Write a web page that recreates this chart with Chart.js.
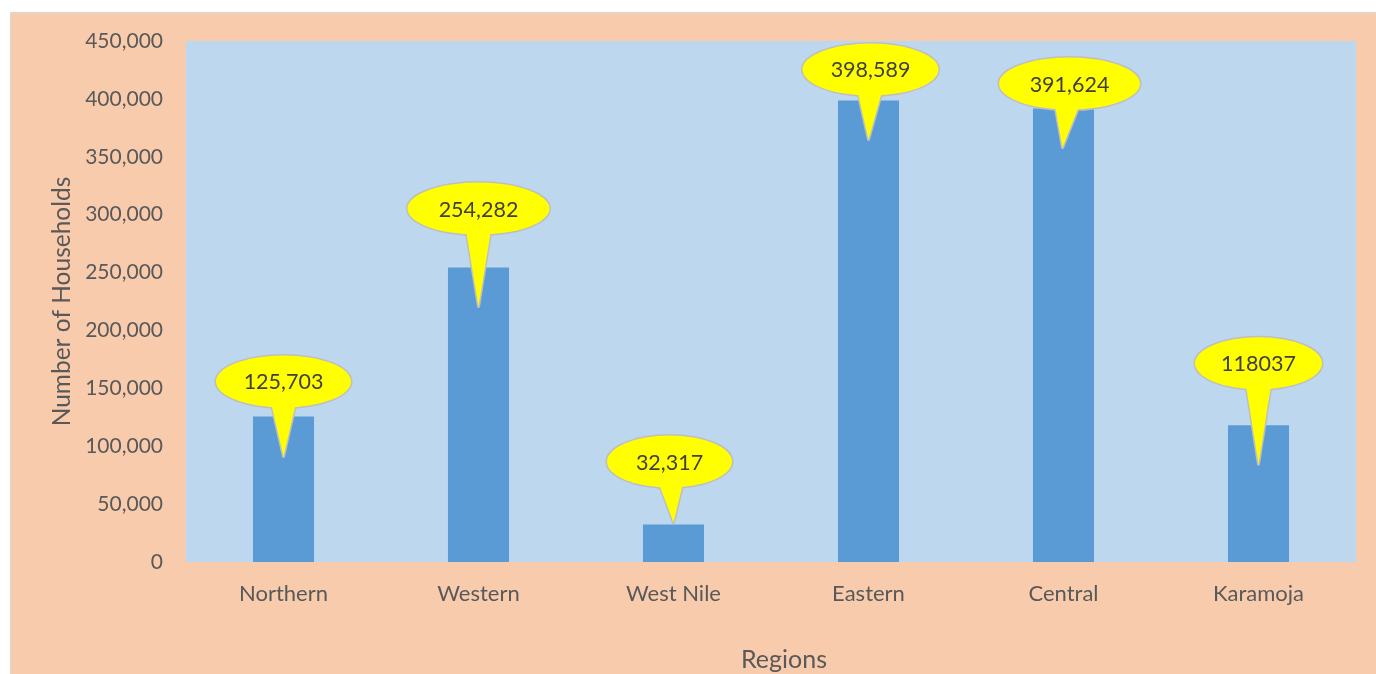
<!DOCTYPE html>
<html>
<head>
<meta charset="utf-8">
<script src="https://cdn.jsdelivr.net/npm/chart.js@4/dist/chart.umd.min.js"></script>
<style>
  html, body { margin: 0; padding: 0; background: #ffffff; }
  #wrap { width: 1376px; height: 674px; }
</style>
</head>
<body>
<div id="wrap"><canvas id="c" width="1376" height="674"></canvas></div>
<script>
// Households per region
const regions = ['Northern', 'Western', 'West Nile', 'Eastern', 'Central', 'Karamoja'];
const households = [125703, 254282, 32317, 398589, 391624, 118037];
// Whether each callout prints its number with thousands separators
const groupedLabel = [true, true, true, true, true, false];
// Value axis range
const yMin = 0;
const yMax = 450000;
const yStep = 50000;
const xTitle = 'Regions';
const yTitle = 'Number of Households';

// Callout placement, relative to each bar's top centre:
// [bubble dx, bubble dy, bubble width, tip dx, tip dy]
const calloutLayout = [
  [0, -35, 135, 0, 40],
  [0, -59, 142, 0, 39],
  [-4, -63, 125, 0, -2],
  [2, -31, 136, 0, 39],
  [6, -25, 141, -1, 39],
  [0, -62, 127, 0, 39]
];

const FONT = 'Lato, "Open Sans", sans-serif';
const TEXT = '#595959';

const backdrop = {
  id: 'backdrop',
  beforeDraw(chart) {
    const { ctx, width, height, chartArea } = chart;
    ctx.save();
    ctx.fillStyle = '#ffffff';
    ctx.fillRect(0, 0, width, height);
    ctx.fillStyle = '#d9d9d9';
    ctx.fillRect(10, 12, width - 10, 1);
    ctx.fillRect(10, 12, 1, height - 12);
    ctx.fillStyle = '#f8cbad';
    ctx.fillRect(11, 13, width - 11, height - 13);
    ctx.fillStyle = '#bdd7ee';
    ctx.fillRect(chartArea.left, chartArea.top, chartArea.right - chartArea.left, chartArea.bottom - chartArea.top);
    ctx.restore();
  }
};

// Category-axis title, sitting slightly right of the plot centre
const bottomTitle = {
  id: 'bottomTitle',
  afterDraw(chart) {
    const { ctx, chartArea } = chart;
    ctx.save();
    ctx.fillStyle = TEXT;
    ctx.font = '25px ' + FONT;
    ctx.textAlign = 'center';
    ctx.textBaseline = 'middle';
    ctx.fillText(xTitle, (chartArea.left + chartArea.right) / 2 + 13, 660);
    ctx.restore();
  }
};

const callouts = {
  id: 'callouts',
  afterDatasetsDraw(chart) {
    const { ctx } = chart;
    const meta = chart.getDatasetMeta(0);
    meta.data.forEach((bar, i) => {
      const [dx, dy, w, tdx, tdy] = calloutLayout[i];
      const cx = bar.x + dx, cy = bar.y + dy;
      const rx = w / 2, ry = 26;
      const tx = bar.x + tdx, ty = bar.y + tdy;
      const baseY = cy + ry - 7;
      const baseC = cx + (tx - cx) * 0.3;
      const ellipse = () => { ctx.beginPath(); ctx.ellipse(cx, cy, rx, ry, 0, 0, Math.PI * 2); ctx.closePath(); };
      const pointer = () => {
        ctx.beginPath();
        ctx.moveTo(baseC - 13, baseY);
        ctx.lineTo(tx, ty);
        ctx.lineTo(baseC + 13, baseY);
        ctx.closePath();
      };
      ctx.save();
      ctx.strokeStyle = '#bfbfbf';
      ctx.lineWidth = 3;
      ctx.lineJoin = 'round';
      ellipse(); ctx.stroke();
      pointer(); ctx.stroke();
      ctx.fillStyle = '#ffff00';
      ellipse(); ctx.fill();
      pointer(); ctx.fill();
      const v = households[i];
      const text = groupedLabel[i] ? v.toLocaleString('en-US') : String(v);
      ctx.fillStyle = '#404040';
      ctx.font = '21.5px ' + FONT;
      ctx.textAlign = 'center';
      ctx.textBaseline = 'middle';
      ctx.fillText(text, cx, cy + 1);
      ctx.restore();
    });
  }
};

new Chart(document.getElementById('c'), {
  type: 'bar',
  data: {
    labels: regions,
    datasets: [{
      label: yTitle,
      data: households,
      backgroundColor: '#5b9bd5',
      borderWidth: 0,
      categoryPercentage: 1.0,
      barPercentage: 0.313
    }]
  },
  options: {
    responsive: false,
    animation: false,
    devicePixelRatio: 1,
    layout: { padding: { top: 41, right: 20, left: 0, bottom: 0 } },
    plugins: {
      legend: { display: false },
      tooltip: { enabled: false }
    },
    scales: {
      x: {
        grid: { display: false, drawTicks: false },
        border: { display: false },
        ticks: { color: TEXT, font: { family: FONT, size: 22 }, padding: 19 },
        title: { display: false },
        afterFit(s) { s.height = 112; }
      },
      y: {
        min: yMin, max: yMax,
        grid: { display: false, drawTicks: false },
        border: { display: false },
        ticks: { stepSize: yStep, color: TEXT, font: { family: FONT, size: 21 }, padding: 23 },
        title: {
          display: true, text: yTitle, color: TEXT,
          font: { family: FONT, size: 24.5 }, padding: { top: 47, bottom: 0 }
        },
        afterFit(s) { s.width = 186; }
      }
    }
  },
  plugins: [backdrop, callouts, bottomTitle]
});
</script>
</body>
</html>
